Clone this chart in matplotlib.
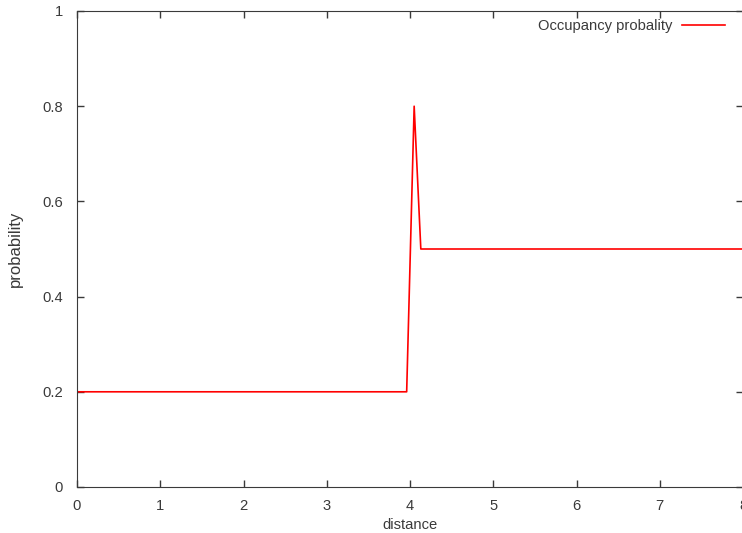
import matplotlib.pyplot as plt

# Verlauf der Belegungswahrscheinlichkeit über die Distanz
distance = [0, 3.96, 4.05, 4.13, 8]
probability = [0.2, 0.2, 0.8, 0.5, 0.5]
x_ticks = [0, 1, 2, 3, 4, 5, 6, 7, 8]
y_ticks = [0, 0.2, 0.4, 0.6, 0.8, 1]
y_labels = ['0', '0.2', '0.4', '0.6', '0.8', '1']

plt.rcParams['font.family'] = ['Liberation Sans', 'DejaVu Sans']
plt.rcParams['font.size'] = 10.6
grey = '#3a3a3a'

fig = plt.figure(figsize=(7.42, 5.33), dpi=100)
ax = fig.add_axes([77 / 742, (533 - 487) / 533, 666 / 742, 476 / 533])

ax.plot(distance, probability, color='red', lw=1.2, label='Occupancy probality')
ax.set_xlim(0, 8)
ax.set_ylim(0, 1)
ax.set_xticks(x_ticks)
ax.set_yticks(y_ticks)
ax.set_yticklabels(y_labels)
ax.tick_params(direction='in', top=True, right=True, length=5, width=1, color=grey, labelcolor=grey)
ax.tick_params(axis='x', pad=9)
ax.tick_params(axis='y', pad=10)
for s in ax.spines.values():
    s.set_color(grey)
ax.set_xlabel('distance', color=grey, labelpad=3)
ax.set_ylabel('probability', color=grey, fontsize=12, labelpad=14)

leg = ax.legend(loc='upper right', frameon=False, markerfirst=False, handlelength=2.9,
                handletextpad=0.7, borderpad=0, borderaxespad=0,
                bbox_to_anchor=(725 / 742, (533 - 19) / 533), bbox_transform=fig.transFigure)
for t in leg.get_texts():
    t.set_color(grey)

fig.savefig('out.png', dpi=100)
